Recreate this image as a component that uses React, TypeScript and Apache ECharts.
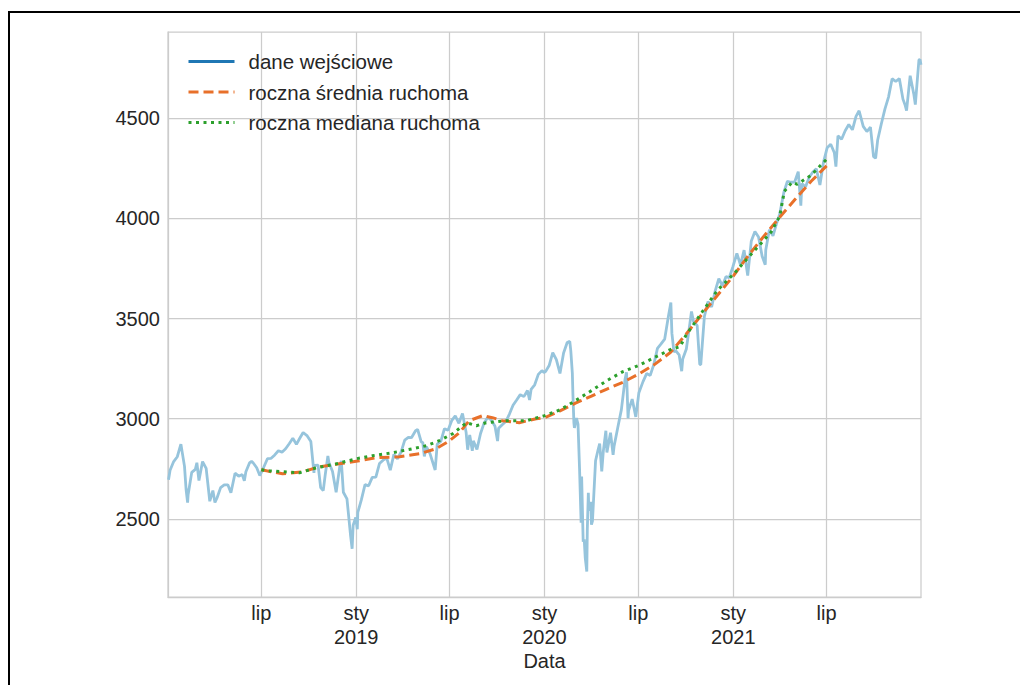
import React, { useEffect, useRef } from "react";
import * as echarts from "echarts";

// ---- Data ----
const close2018: [string, number][] = [
  ["2018-01-02", 2695], ["2018-01-05", 2743], ["2018-01-12", 2786], ["2018-01-19", 2810], ["2018-01-26", 2873],
  ["2018-02-02", 2762], ["2018-02-05", 2649], ["2018-02-08", 2581], ["2018-02-09", 2620], ["2018-02-16", 2732],
  ["2018-02-23", 2747], ["2018-02-26", 2780], ["2018-03-02", 2691], ["2018-03-09", 2786], ["2018-03-16", 2752],
  ["2018-03-23", 2588], ["2018-03-29", 2641], ["2018-04-02", 2582], ["2018-04-06", 2604], ["2018-04-13", 2656],
  ["2018-04-20", 2670], ["2018-04-27", 2670], ["2018-05-03", 2630], ["2018-05-11", 2728], ["2018-05-18", 2713],
  ["2018-05-25", 2721], ["2018-05-29", 2690], ["2018-06-01", 2735], ["2018-06-08", 2779], ["2018-06-12", 2787],
  ["2018-06-15", 2780], ["2018-06-22", 2755], ["2018-06-28", 2716], ["2018-07-06", 2760], ["2018-07-13", 2801],
  ["2018-07-20", 2802], ["2018-07-27", 2819], ["2018-08-03", 2840], ["2018-08-10", 2833], ["2018-08-17", 2850],
  ["2018-08-24", 2875], ["2018-08-31", 2902], ["2018-09-07", 2872], ["2018-09-14", 2905], ["2018-09-20", 2931],
  ["2018-09-28", 2914], ["2018-10-05", 2886], ["2018-10-11", 2729], ["2018-10-12", 2767], ["2018-10-19", 2768],
  ["2018-10-24", 2656], ["2018-10-29", 2641], ["2018-11-02", 2723], ["2018-11-07", 2814], ["2018-11-09", 2781],
  ["2018-11-16", 2736], ["2018-11-23", 2633], ["2018-11-30", 2760], ["2018-12-03", 2790], ["2018-12-07", 2633],
  ["2018-12-14", 2600], ["2018-12-21", 2417], ["2018-12-24", 2351], ["2018-12-26", 2468], ["2018-12-31", 2507],
];
const close2019: [string, number][] = [
  ["2019-01-03", 2448], ["2019-01-04", 2532], ["2019-01-11", 2596], ["2019-01-18", 2671], ["2019-01-25", 2665],
  ["2019-02-01", 2707], ["2019-02-08", 2708], ["2019-02-15", 2776], ["2019-02-22", 2793], ["2019-03-01", 2804],
  ["2019-03-08", 2743], ["2019-03-15", 2822], ["2019-03-22", 2800], ["2019-03-29", 2834], ["2019-04-05", 2893],
  ["2019-04-12", 2907], ["2019-04-18", 2905], ["2019-04-26", 2940], ["2019-04-30", 2946], ["2019-05-07", 2884],
  ["2019-05-10", 2881], ["2019-05-13", 2812], ["2019-05-17", 2860], ["2019-05-24", 2826], ["2019-06-03", 2744],
  ["2019-06-07", 2873], ["2019-06-14", 2887], ["2019-06-21", 2950], ["2019-06-28", 2942], ["2019-07-05", 2990],
  ["2019-07-12", 3014], ["2019-07-19", 2977], ["2019-07-26", 3026], ["2019-08-02", 2932], ["2019-08-05", 2845],
  ["2019-08-09", 2919], ["2019-08-14", 2840], ["2019-08-16", 2889], ["2019-08-23", 2847], ["2019-08-30", 2926],
  ["2019-09-06", 2979], ["2019-09-13", 3007], ["2019-09-20", 2992], ["2019-09-27", 2962], ["2019-10-02", 2888],
  ["2019-10-04", 2952], ["2019-10-11", 2970], ["2019-10-18", 2986], ["2019-10-25", 3023], ["2019-11-01", 3067],
  ["2019-11-08", 3093], ["2019-11-15", 3120], ["2019-11-22", 3110], ["2019-11-29", 3141], ["2019-12-03", 3093],
  ["2019-12-06", 3146], ["2019-12-13", 3169], ["2019-12-20", 3221], ["2019-12-27", 3240], ["2019-12-31", 3231],
];
const close2020: [string, number][] = [
  ["2020-01-03", 3235], ["2020-01-10", 3265], ["2020-01-17", 3330], ["2020-01-24", 3295], ["2020-01-31", 3226],
  ["2020-02-07", 3328], ["2020-02-14", 3380], ["2020-02-19", 3386], ["2020-02-21", 3338], ["2020-02-24", 3226],
  ["2020-02-25", 3128], ["2020-02-27", 2979], ["2020-02-28", 2954], ["2020-03-03", 3003], ["2020-03-06", 2972],
  ["2020-03-09", 2747], ["2020-03-12", 2481], ["2020-03-13", 2711], ["2020-03-16", 2386], ["2020-03-18", 2398],
  ["2020-03-20", 2305], ["2020-03-23", 2237], ["2020-03-24", 2447], ["2020-03-26", 2630], ["2020-03-27", 2541],
  ["2020-03-31", 2585], ["2020-04-01", 2471], ["2020-04-03", 2489], ["2020-04-09", 2790], ["2020-04-14", 2846],
  ["2020-04-17", 2875], ["2020-04-21", 2737], ["2020-04-24", 2837], ["2020-04-29", 2940], ["2020-05-01", 2831],
  ["2020-05-08", 2930], ["2020-05-13", 2820], ["2020-05-15", 2864], ["2020-05-22", 2955], ["2020-05-29", 3044],
  ["2020-06-05", 3194], ["2020-06-08", 3232], ["2020-06-11", 3002], ["2020-06-12", 3041], ["2020-06-19", 3098],
  ["2020-06-26", 3009], ["2020-07-02", 3130], ["2020-07-10", 3185], ["2020-07-17", 3225], ["2020-07-24", 3216],
  ["2020-07-31", 3271], ["2020-08-07", 3351], ["2020-08-14", 3373], ["2020-08-21", 3397], ["2020-08-28", 3508],
  ["2020-09-02", 3580], ["2020-09-04", 3427], ["2020-09-08", 3332], ["2020-09-11", 3341], ["2020-09-18", 3319],
  ["2020-09-23", 3237], ["2020-09-25", 3298], ["2020-10-02", 3348], ["2020-10-09", 3477], ["2020-10-12", 3535],
  ["2020-10-16", 3484], ["2020-10-23", 3465], ["2020-10-28", 3271], ["2020-10-30", 3270], ["2020-11-06", 3510],
  ["2020-11-13", 3585], ["2020-11-20", 3558], ["2020-11-27", 3638], ["2020-12-04", 3699], ["2020-12-11", 3663],
  ["2020-12-18", 3710], ["2020-12-24", 3703], ["2020-12-31", 3756],
];
const close2021: [string, number][] = [
  ["2021-01-08", 3825], ["2021-01-15", 3768], ["2021-01-22", 3841], ["2021-01-29", 3714], ["2021-02-05", 3887],
  ["2021-02-12", 3934], ["2021-02-19", 3907], ["2021-02-26", 3811], ["2021-03-04", 3768], ["2021-03-05", 3842],
  ["2021-03-12", 3943], ["2021-03-19", 3913], ["2021-03-26", 3975], ["2021-04-01", 4020], ["2021-04-09", 4129],
  ["2021-04-16", 4185], ["2021-04-23", 4180], ["2021-04-30", 4181], ["2021-05-07", 4233], ["2021-05-12", 4063],
  ["2021-05-14", 4174], ["2021-05-21", 4156], ["2021-05-28", 4204], ["2021-06-04", 4230], ["2021-06-11", 4247],
  ["2021-06-18", 4166], ["2021-06-25", 4281], ["2021-07-02", 4352], ["2021-07-09", 4370], ["2021-07-16", 4327],
  ["2021-07-19", 4258], ["2021-07-23", 4412], ["2021-07-30", 4395], ["2021-08-06", 4437], ["2021-08-13", 4468],
  ["2021-08-20", 4442], ["2021-08-27", 4509], ["2021-09-02", 4537], ["2021-09-10", 4459], ["2021-09-17", 4433],
  ["2021-09-24", 4455], ["2021-09-30", 4308], ["2021-10-04", 4300], ["2021-10-08", 4391], ["2021-10-15", 4471],
  ["2021-10-22", 4545], ["2021-10-29", 4605], ["2021-11-05", 4697], ["2021-11-12", 4683], ["2021-11-19", 4698],
  ["2021-11-26", 4595], ["2021-11-30", 4567], ["2021-12-03", 4538], ["2021-12-10", 4712], ["2021-12-17", 4621],
  ["2021-12-20", 4568], ["2021-12-27", 4791], ["2021-12-29", 4793], ["2021-12-31", 4766],
];

const rollingMean: [string, number][] = [
  ["2018-07-01", 2745], ["2018-07-11", 2740], ["2018-08-11", 2725], ["2018-09-19", 2735], ["2018-10-22", 2760],
  ["2018-11-29", 2775], ["2019-01-07", 2790], ["2019-02-09", 2805], ["2019-03-26", 2810], ["2019-05-04", 2825],
  ["2019-06-05", 2850], ["2019-07-01", 2890], ["2019-07-20", 2930], ["2019-08-08", 2990], ["2019-09-03", 3015],
  ["2019-09-22", 3005], ["2019-10-11", 2990], ["2019-11-13", 2980], ["2019-12-16", 3000], ["2020-01-01", 3005],
  ["2020-02-01", 3040], ["2020-03-01", 3078], ["2020-04-01", 3113], ["2020-05-01", 3148], ["2020-06-01", 3182],
  ["2020-07-01", 3222], ["2020-08-01", 3270], ["2020-09-01", 3330], ["2020-10-01", 3420], ["2020-11-01", 3520],
  ["2020-12-01", 3615], ["2021-01-01", 3712], ["2021-02-01", 3820], ["2021-03-01", 3910], ["2021-04-01", 4005],
  ["2021-05-01", 4095], ["2021-06-01", 4185], ["2021-07-01", 4262],
];

const rollingMedian: [string, number][] = [
  ["2018-07-01", 2745], ["2018-07-12", 2740], ["2018-09-13", 2730], ["2018-10-16", 2755], ["2018-11-24", 2775],
  ["2019-01-01", 2800], ["2019-02-01", 2815], ["2019-03-12", 2830], ["2019-04-20", 2850], ["2019-05-17", 2865],
  ["2019-06-11", 2890], ["2019-07-07", 2925], ["2019-08-03", 2980], ["2019-08-22", 2965], ["2019-09-10", 2980],
  ["2019-10-19", 2990], ["2019-11-27", 2990], ["2020-01-01", 3015], ["2020-02-01", 3045], ["2020-03-01", 3090],
  ["2020-04-01", 3140], ["2020-05-01", 3190], ["2020-06-01", 3235], ["2020-07-01", 3265], ["2020-08-01", 3305],
  ["2020-09-01", 3345], ["2020-09-20", 3360], ["2020-10-01", 3415], ["2020-11-01", 3530], ["2020-12-01", 3640],
  ["2021-01-01", 3720], ["2021-02-01", 3810], ["2021-03-01", 3890], ["2021-03-15", 3930], ["2021-04-01", 4010],
  ["2021-04-10", 4135], ["2021-04-25", 4180], ["2021-05-05", 4170], ["2021-06-01", 4215], ["2021-07-01", 4295],
];

const xTickDates = ["2018-07-01", "2019-01-01", "2019-07-01", "2020-01-01", "2020-07-01", "2021-01-01", "2021-07-01"];
const xTickLabels = ["lip", "sty\n2019", "lip", "sty\n2020", "lip", "sty\n2021", "lip"];
const yTicks = [2500, 3000, 3500, 4000, 4500];
const seriesNames = ["dane wejściowe", "roczna średnia ruchoma", "roczna mediana ruchoma"];

const toTs = (s: string) => {
  const [y, m, d] = s.split("-").map(Number);
  return Date.UTC(y, m - 1, d);
};
const conv = (arr: [string, number][]) => arr.map(([d, v]) => [toTs(d), v]);

export default function App() {
  const ref = useRef<HTMLDivElement>(null);
  useEffect(() => {
    if (!ref.current) return;
    const chart = echarts.init(ref.current, undefined, { renderer: "svg" });
    const tickTs = xTickDates.map(toTs);
    const grey = "#cccccc";
    const txt = "#262626";
    const fs = 20;
    const hidden = { color: "rgba(0,0,0,0)", borderWidth: 0, opacity: 0 };
    chart.setOption({
      animation: false,
      backgroundColor: "#ffffff",
      textStyle: { fontFamily: "Liberation Sans, Arial, sans-serif" },
      grid: { left: 168, right: 99, top: 32, bottom: 88, show: true, borderColor: grey, borderWidth: 1.25 },
      legend: {
        orient: "vertical",
        left: 187,
        top: 51,
        padding: 0,
        itemWidth: 46,
        itemHeight: 14,
        itemGap: 9.5,
        textStyle: { fontSize: 20.5, color: txt, lineHeight: 20, padding: [0, 0, 0, 9] },
        data: [
          { name: seriesNames[0], itemStyle: hidden, lineStyle: { color: "#1f77b4", width: 3 } },
          { name: seriesNames[1], itemStyle: hidden, lineStyle: { color: "#e8702a", width: 3, type: [10, 5] } },
          { name: seriesNames[2], itemStyle: hidden, lineStyle: { color: "#2ca02c", width: 3, type: [3, 4.5] } },
        ],
      },
      xAxis: {
        type: "value",
        min: toTs("2018-01-01"),
        max: toTs("2021-12-31"),
        axisLine: { show: true, lineStyle: { color: grey, width: 1.25 } },
        axisTick: { show: false, customValues: tickTs },
        axisLabel: {
          customValues: tickTs,
          fontSize: fs,
          color: txt,
          lineHeight: 24,
          margin: 4,
          hideOverlap: false,
          formatter: (v: number) => {
            const i = tickTs.indexOf(v);
            return i >= 0 ? xTickLabels[i] : "";
          },
        },
        splitLine: { show: true, lineStyle: { color: grey, width: 1.25 } },
        name: "Data",
        nameLocation: "middle",
        nameGap: 54,
        nameMoveOverlap: false,
        nameTextStyle: { fontSize: fs, color: txt },
      },
      yAxis: {
        type: "value",
        min: 2110,
        max: 4930,
        axisLine: { show: true, lineStyle: { color: grey, width: 1.25 } },
        axisTick: { show: false, customValues: yTicks },
        axisLabel: { customValues: yTicks, fontSize: fs, color: txt, margin: 8, formatter: (v: number) => String(v) },
        splitLine: { show: true, lineStyle: { color: grey, width: 1.25 } },
      },
      series: [
        {
          name: seriesNames[0],
          type: "line",
          symbol: "none",
          z: 2,
          data: conv([...close2018, ...close2019, ...close2020, ...close2021]),
          itemStyle: { color: "#1f77b4" },
          lineStyle: { color: "#96c4dc", width: 2.8 },
        },
        {
          name: seriesNames[1],
          type: "line",
          symbol: "none",
          z: 3,
          data: conv(rollingMean),
          itemStyle: { color: "#e8702a" },
          lineStyle: { color: "#e8702a", width: 3, type: [10, 5] },
        },
        {
          name: seriesNames[2],
          type: "line",
          symbol: "none",
          z: 4,
          data: conv(rollingMedian),
          itemStyle: { color: "#2ca02c" },
          lineStyle: { color: "#2ca02c", width: 3, type: [3, 4.5] },
        },
      ],
    });
    return () => chart.dispose();
  }, []);
  return (
    <div style={{ position: "fixed", left: 0, top: 0, width: 1020, height: 685, background: "#fff" }}>
      <div ref={ref} style={{ position: "absolute", left: 0, top: 0, width: 1020, height: 685 }} />
      <div
        style={{
          position: "absolute",
          left: 8,
          top: 11,
          right: -10,
          bottom: -10,
          borderLeft: "2px solid #000",
          borderTop: "2px solid #000",
          pointerEvents: "none",
        }}
      />
    </div>
  );
}
